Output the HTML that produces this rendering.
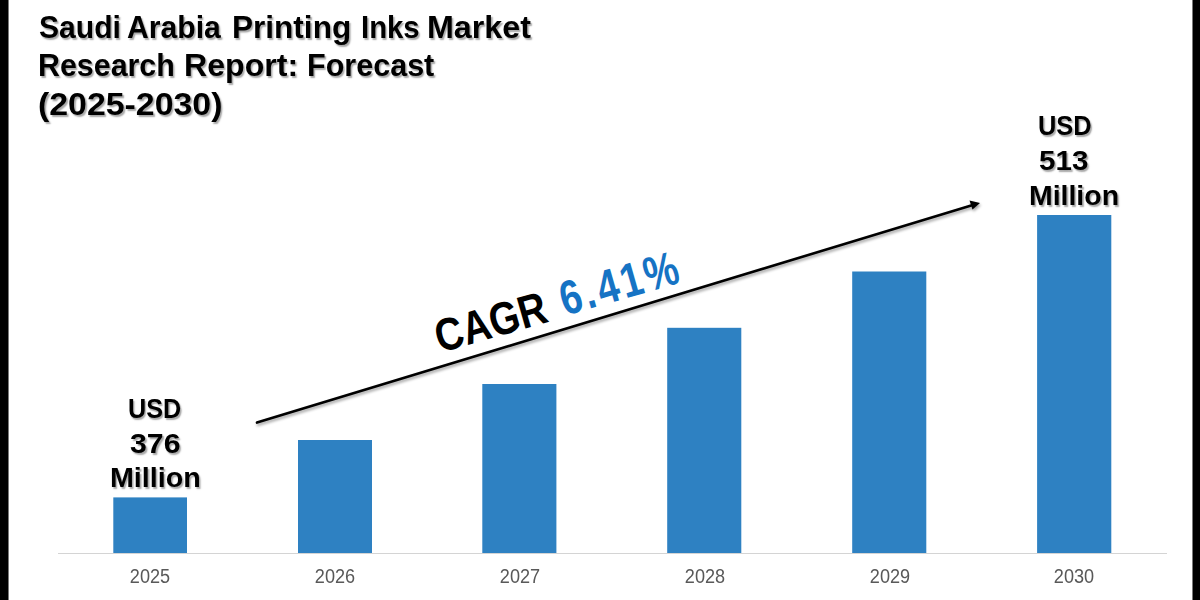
<!DOCTYPE html>
<html><head><meta charset="utf-8">
<style>
html,body{margin:0;padding:0;background:#fff;}
body{width:1200px;height:600px;position:relative;overflow:hidden;font-family:"Liberation Sans",sans-serif;}
.vb{position:absolute;top:0;height:600px;background:#000;}
.t{position:absolute;transform-origin:0 0;font-weight:bold;font-size:31px;color:#000;white-space:nowrap;line-height:1;text-shadow:1.5px 1.5px 1.5px rgba(0,0,0,0.35);}
.yr{position:absolute;top:566px;width:80px;text-align:center;font-size:20px;color:#595959;line-height:1;transform:scaleX(0.905);}
.lb{position:absolute;transform-origin:0 0;font-weight:bold;font-size:27.5px;color:#000;white-space:nowrap;line-height:1;text-shadow:1.5px 1.5px 1.5px rgba(0,0,0,0.35);}
</style></head><body>
<div class="vb" style="left:0;width:8px"></div>
<div class="vb" style="left:8px;width:1px;background:#7a7a7a"></div>
<div class="vb" style="left:1192px;width:1px;background:#7a7a7a"></div>
<div class="vb" style="left:1193px;width:7px"></div>
<div class="t" style="left:38.73px;top:11.75px;transform:scaleX(0.9704)">Saudi</div>
<div class="t" style="left:126.53px;top:11.75px;transform:scaleX(0.9719)">Arabia</div>
<div class="t" style="left:232.16px;top:11.75px;transform:scaleX(1.0177)">Printing</div>
<div class="t" style="left:360.61px;top:11.75px;transform:scaleX(0.9458)">Inks</div>
<div class="t" style="left:427.32px;top:11.75px;transform:scaleX(1.0398)">Market</div>
<div class="t" style="left:38.04px;top:49.75px;transform:scaleX(0.9801)">Research</div>
<div class="t" style="left:183.73px;top:49.75px;transform:scaleX(1.0352)">Report:</div>
<div class="t" style="left:307.43px;top:49.75px;transform:scaleX(0.9850)">Forecast</div>
<div class="t" style="left:38.22px;top:88.75px;transform:scaleX(1.0921)">(2025-2030)</div>

<svg style="position:absolute;left:0;top:0" width="1200" height="600">
<rect x="58" y="553" width="1109" height="1" fill="#d4d4d4"/>
<rect x="113.3" y="497.4" width="73.7" height="55.6" fill="#2e81c2"/>
<rect x="298.0" y="440.0" width="74.0" height="113.0" fill="#2e81c2"/>
<rect x="482.3" y="384.0" width="74.1" height="169.0" fill="#2e81c2"/>
<rect x="667.2" y="327.8" width="74.1" height="225.2" fill="#2e81c2"/>
<rect x="852.2" y="271.5" width="74.1" height="281.5" fill="#2e81c2"/>
<rect x="1037.1" y="215.0" width="74.2" height="338.0" fill="#2e81c2"/>
</svg>
<div class="yr" style="left:109.8px">2025</div>
<div class="yr" style="left:294.7px">2026</div>
<div class="yr" style="left:479.6px">2027</div>
<div class="yr" style="left:665.0px">2028</div>
<div class="yr" style="left:849.7px">2029</div>
<div class="yr" style="left:1034.2px">2030</div>

<div class="lb" style="left:128.47px;top:394.50px;transform:scaleX(0.9164)">USD</div>
<div class="lb" style="left:129.70px;top:429.50px;transform:scaleX(1.1000)">376</div>
<div class="lb" style="left:110.42px;top:464.30px;transform:scaleX(1.0422)">Million</div>
<div class="lb" style="left:1037.95px;top:111.50px;transform:scaleX(0.9236)">USD</div>
<div class="lb" style="left:1039.42px;top:147.00px;transform:scaleX(1.0750)">513</div>
<div class="lb" style="left:1029.33px;top:181.50px;transform:scaleX(1.0337)">Million</div>

<svg style="position:absolute;left:0;top:0" width="1200" height="600">
<defs><filter id="sh" x="-5%" y="-50%" width="110%" height="200%"><feGaussianBlur in="SourceAlpha" stdDeviation="1.6"/><feOffset dx="0.8" dy="1.8"/><feComponentTransfer><feFuncA type="linear" slope="0.4"/></feComponentTransfer><feMerge><feMergeNode/><feMergeNode in="SourceGraphic"/></feMerge></filter></defs>
<g filter="url(#sh)">
<line x1="257" y1="422.6" x2="972" y2="205.2" stroke="#000" stroke-width="2.6" stroke-linecap="round"/>
<polygon points="980,203 969.5,200.5 972.5,209.5" fill="#000"/>
</g>
<g transform="translate(440,353) rotate(-16)">
<text x="0" y="0" transform="scale(0.845,1)" font-family="Liberation Sans" font-weight="bold" font-size="46" fill="#000">CAGR</text>
<text x="163" y="-1.3" transform="scale(0.80,1)" font-family="Liberation Sans" font-weight="bold" font-size="48" fill="#1673c4" letter-spacing="4">6.41%</text>
</g>
</svg>
</body></html>
